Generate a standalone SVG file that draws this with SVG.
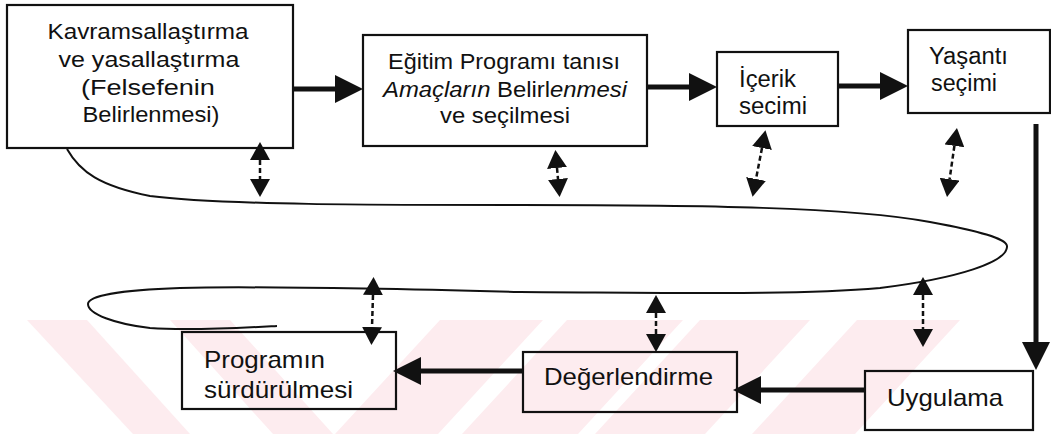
<svg xmlns="http://www.w3.org/2000/svg" width="1051" height="434" viewBox="0 0 1051 434">
  <style>
    .box { fill: none; stroke: #111; stroke-width: 2.2; }
    .lbl { font-family: "Liberation Sans", Arial, sans-serif; fill: #111; }
    .flow { stroke: #111; stroke-width: 5; fill: none; }
    .link { stroke: #111; stroke-width: 2.5; stroke-dasharray: 5 3; fill: none; }
    .loop { stroke: #111; stroke-width: 2; fill: none; }
    .stripe { fill: #fdecef; }
  </style>
  <defs>
    <marker id="head" markerUnits="userSpaceOnUse" markerWidth="28" markerHeight="28" refX="0" refY="14" orient="auto">
      <path d="M0,0 L28,14 L0,28 z" fill="#111"/>
    </marker>
    <marker id="dhead" markerUnits="userSpaceOnUse" markerWidth="18" markerHeight="20" refX="0" refY="10" orient="auto-start-reverse">
      <path d="M0,0 L18,10 L0,20 z" fill="#111"/>
    </marker>
  </defs>

  <rect width="1051" height="434" fill="#fff"/>

  <!-- faint diagonal stripes along the lower edge -->
  <g id="stripes">
    <polygon class="stripe" points="27,320 87,320 190,434 133,434"/>
    <polygon class="stripe" points="170,320 230,320 333,434 273,434"/>
    <polygon class="stripe" points="440,320 543,320 438,434 335,434"/>
    <polygon class="stripe" points="567,320 683,320 578,434 462,434"/>
    <polygon class="stripe" points="700,320 810,320 705,434 595,434"/>
    <polygon class="stripe" points="857,320 960,320 855,434 752,434"/>
  </g>

  <!-- spiral that ties the stages together -->
  <g id="loop">
    <path class="loop" d="M67,149 C80,172 100,186 150,196 C220,205 380,205 520,205 C700,205 850,207 930,222 C990,233 1008,240 1007,247 C1006,262 960,278 880,288 C800,295 700,293 520,292 C400,289 250,286 180,288 C120,290 88,296 88,304 C88,314 115,324 150,328 C190,331 240,328 277,326"/>
  </g>

  <g id="n1">
    <rect class="box" x="7" y="5" width="286" height="143"/>
    <text class="lbl" font-size="22" text-anchor="middle">
      <tspan x="151" y="39" textLength="201" lengthAdjust="spacingAndGlyphs">Kavramsallaştırma</tspan>
      <tspan x="152" y="67" textLength="181" lengthAdjust="spacingAndGlyphs">ve yasallaştırma</tspan>
      <tspan x="151" y="95" textLength="134" lengthAdjust="spacingAndGlyphs">(Felsefenin</tspan>
      <tspan x="151" y="122" textLength="137" lengthAdjust="spacingAndGlyphs">Belirlenmesi)</tspan>
    </text>
  </g>

  <g id="n2">
    <rect class="box" x="363" y="35" width="284" height="111"/>
    <text class="lbl" font-size="22" text-anchor="middle" x="504" y="69" textLength="232" lengthAdjust="spacingAndGlyphs">Eğitim Programı tanısı</text>
    <text class="lbl" font-size="22" text-anchor="middle" x="505" y="97" textLength="244" lengthAdjust="spacingAndGlyphs"><tspan font-style="italic">Amaçların</tspan> Belirl<tspan font-style="italic">enmesi</tspan></text>
    <text class="lbl" font-size="22" text-anchor="middle" x="505" y="123" textLength="130" lengthAdjust="spacingAndGlyphs">ve seçilmesi</text>
  </g>

  <g id="n3">
    <rect class="box" x="717" y="52" width="121" height="74"/>
    <text class="lbl" font-size="23" x="739" y="87" textLength="57" lengthAdjust="spacingAndGlyphs">İçerik</text>
    <text class="lbl" font-size="23" x="739" y="114" textLength="68" lengthAdjust="spacingAndGlyphs">secimi</text>
  </g>

  <g id="n4">
    <rect class="box" x="908" y="30" width="142" height="83"/>
    <text class="lbl" font-size="23" x="929" y="64" textLength="79" lengthAdjust="spacingAndGlyphs">Yaşantı</text>
    <text class="lbl" font-size="23" x="931" y="91" textLength="66" lengthAdjust="spacingAndGlyphs">seçimi</text>
  </g>

  <g id="n5">
    <rect class="box" x="865" y="371" width="168" height="59"/>
    <text class="lbl" font-size="24" x="887" y="406" textLength="116" lengthAdjust="spacingAndGlyphs">Uygulama</text>
  </g>

  <g id="n6">
    <rect class="box" x="523" y="352" width="214" height="60"/>
    <text class="lbl" font-size="24" x="544" y="385" textLength="169" lengthAdjust="spacingAndGlyphs">Değerlendirme</text>
  </g>

  <g id="n7">
    <rect class="box" x="182" y="332" width="214" height="77"/>
    <text class="lbl" font-size="24" x="204" y="368" textLength="121" lengthAdjust="spacingAndGlyphs">Programın</text>
    <text class="lbl" font-size="24" x="204" y="398" textLength="149" lengthAdjust="spacingAndGlyphs">sürdürülmesi</text>
  </g>

  <g id="connectors">
    <line class="flow" x1="293" y1="89" x2="335" y2="89" marker-end="url(#head)"/>
    <line class="flow" x1="647" y1="87" x2="689" y2="87" marker-end="url(#head)"/>
    <line class="flow" x1="838" y1="86" x2="880" y2="86" marker-end="url(#head)"/>
    <line class="flow" x1="1036" y1="124" x2="1036" y2="342" marker-end="url(#head)"/>
    <line class="flow" x1="865" y1="390" x2="761" y2="390" marker-end="url(#head)"/>
    <line class="flow" x1="523" y1="371" x2="421" y2="371" marker-end="url(#head)"/>

    <line class="link" x1="260" y1="160" x2="260" y2="179" marker-start="url(#dhead)" marker-end="url(#dhead)"/>
    <line class="link" x1="557" y1="168" x2="558" y2="179" marker-start="url(#dhead)" marker-end="url(#dhead)"/>
    <line class="link" x1="762" y1="148" x2="756" y2="179" marker-start="url(#dhead)" marker-end="url(#dhead)"/>
    <line class="link" x1="954.4" y1="145.8" x2="949.6" y2="179.2" marker-start="url(#dhead)" marker-end="url(#dhead)"/>
    <line class="link" x1="373" y1="295" x2="372" y2="327" marker-start="url(#dhead)" marker-end="url(#dhead)"/>
    <line class="link" x1="656" y1="313" x2="656" y2="334" marker-start="url(#dhead)" marker-end="url(#dhead)"/>
    <line class="link" x1="923" y1="295" x2="923" y2="329" marker-start="url(#dhead)" marker-end="url(#dhead)"/>
  </g>
</svg>
